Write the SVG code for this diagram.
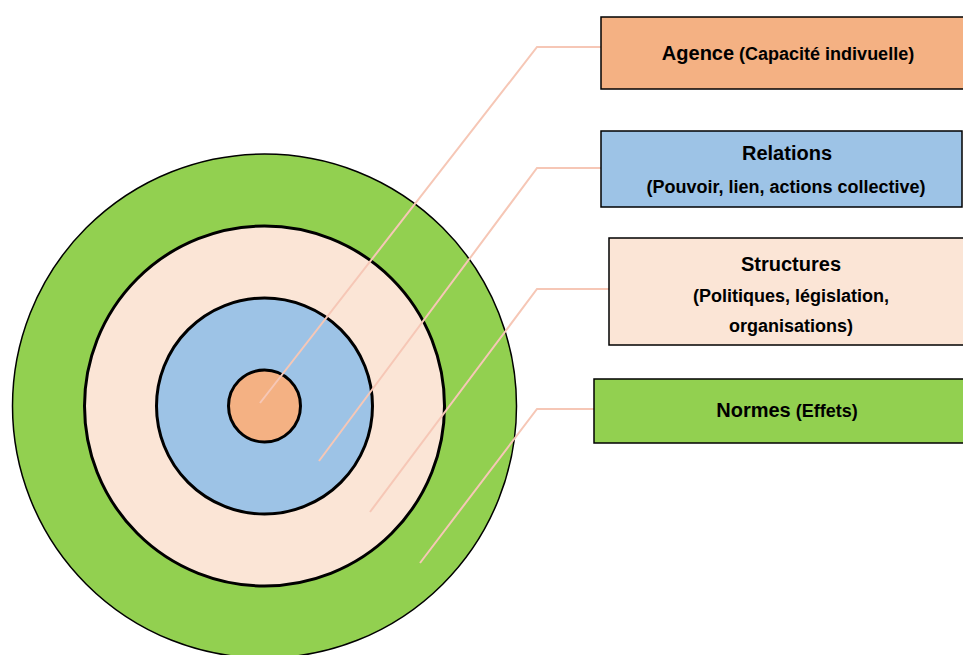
<svg xmlns="http://www.w3.org/2000/svg" width="963" height="655" viewBox="0 0 963 655">
  <style>
    .ring { stroke: #000; }
    .box { stroke: #000; stroke-width: 1.5; }
    .lead { fill: none; stroke: #F6C7B6; stroke-width: 2; }
    .t { font-family: "Liberation Sans", Arial, sans-serif; font-weight: bold; fill: #000; text-anchor: middle; }
    .big { font-size: 20px; }
    .small { font-size: 18px; }
  </style>
  <rect width="963" height="655" fill="#fff"/>

  <!-- concentric rings -->
  <g id="rings">
    <circle id="ring-normes" class="ring" cx="264.5" cy="406" r="252" fill="#92D050" stroke-width="1.5"/>
    <circle id="ring-structures" class="ring" cx="264.5" cy="406" r="180" fill="#FBE5D6" stroke-width="3"/>
    <circle id="ring-relations" class="ring" cx="264.5" cy="406" r="108" fill="#9DC3E6" stroke-width="3"/>
    <circle id="ring-agence" class="ring" cx="264.5" cy="406" r="36" fill="#F4B183" stroke-width="3"/>
  </g>

  <!-- leader lines -->
  <g id="connectors">
    <polyline class="lead" points="260,403 537,47 601,47"/>
    <polyline class="lead" points="319,461 537,168 601,168"/>
    <polyline class="lead" points="370,512 537,289 609,289"/>
    <polyline class="lead" points="420,563 537,409 594,409"/>
  </g>

  <g id="box-agence">
    <rect class="box" x="601" y="17" width="370" height="72" fill="#F4B183"/>
    <text class="t" x="788" y="60"><tspan class="big">Agence</tspan><tspan class="small"> (Capacité indivuelle)</tspan></text>
  </g>

  <g id="box-relations">
    <rect class="box" x="601" y="131" width="361" height="76" fill="#9DC3E6"/>
    <text class="t big" x="787" y="160">Relations</text>
    <text class="t small" x="786" y="193">(Pouvoir, lien, actions collective)</text>
  </g>

  <g id="box-structures">
    <rect class="box" x="609" y="238" width="362" height="107" fill="#FBE5D6"/>
    <text class="t big" x="791" y="271">Structures</text>
    <text class="t small" x="791" y="302">(Politiques, législation,</text>
    <text class="t small" x="791" y="332">organisations)</text>
  </g>

  <g id="box-normes">
    <rect class="box" x="594" y="379" width="377" height="64" fill="#92D050"/>
    <text class="t" x="787" y="417"><tspan class="big">Normes</tspan><tspan class="small"> (Effets)</tspan></text>
  </g>
</svg>
